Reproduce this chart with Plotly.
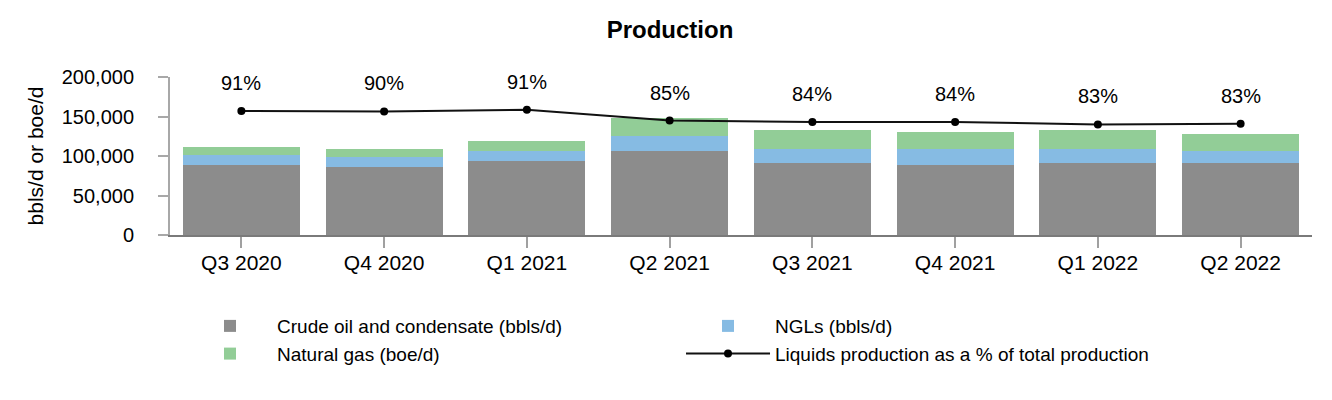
import plotly.graph_objects as go

quarters = ["Q3 2020", "Q4 2020", "Q1 2021", "Q2 2021", "Q3 2021", "Q4 2021", "Q1 2022", "Q2 2022"]
crude = [88600, 86000, 93800, 106700, 91200, 88600, 91200, 91200]
ngls = [12500, 12600, 12900, 18000, 18100, 20700, 18100, 15500]
gas = [10400, 10700, 12900, 23300, 23200, 20600, 23200, 20600]
liquids_pct = [90.6, 90.4, 91.3, 85.2, 84.4, 84.4, 83.0, 83.4]

FONT = "Liberation Sans, Arial, sans-serif"

fig = go.Figure()
fig.add_trace(go.Bar(name="Crude oil and condensate (bbls/d)", x=quarters, y=crude,
                     marker=dict(color="#8c8c8c", line=dict(width=0))))
fig.add_trace(go.Bar(name="NGLs (bbls/d)", x=quarters, y=ngls,
                     marker=dict(color="#86bbe3", line=dict(width=0))))
fig.add_trace(go.Bar(name="Natural gas (boe/d)", x=quarters, y=gas,
                     marker=dict(color="#92cd97", line=dict(width=0))))
fig.add_trace(go.Scatter(name="Liquids production as a % of total production", x=quarters, y=liquids_pct,
                         yaxis="y2", mode="lines+markers",
                         line=dict(color="#111111", width=2),
                         marker=dict(color="#000000", size=8)))

for q, v in zip(quarters, liquids_pct):
    fig.add_annotation(x=q, y=v, yref="y2", text=f"{round(v)}%", showarrow=False,
                       yshift=28, font=dict(size=20, color="#000000", family=FONT))

fig.update_layout(
    width=1324, height=392,
    margin=dict(l=162, r=20, t=69, b=165, autoexpand=False),
    paper_bgcolor="white", plot_bgcolor="white",
    font=dict(family=FONT, color="#000000"),
    title=dict(text="<b>Production</b>", x=0.5, xanchor="center", y=0.944, yanchor="middle",
               font=dict(size=24, family=FONT, color="#000000")),
    barmode="stack", bargap=0.18,
    showlegend=True,
    legend=dict(orientation="h", x=0.0114, xanchor="left", y=-0.456, yanchor="top",
                entrywidth=399, entrywidthmode="pixels", itemwidth=84,
                font=dict(size=19, family=FONT, color="#000000"),
                traceorder="normal"),
    xaxis=dict(showline=True, linecolor="#7a7a7a", linewidth=2, ticks="outside", ticklen=11,
               tickcolor="#a0a0a0", tickwidth=2, tickfont=dict(size=21, family=FONT),
               ticklabelstandoff=-3, showgrid=False),
    yaxis=dict(range=[0, 200000], tickvals=[0, 50000, 100000, 150000, 200000],
               tickformat=",d", showline=True, linecolor="#a8a8a8", linewidth=2,
               ticks="outside", ticklen=10, tickcolor="#a8a8a8", tickwidth=2,
               ticklabelstandoff=20,
               showgrid=False, zeroline=False, tickfont=dict(size=20, family=FONT),
               title=dict(text="bbls/d or boe/d", font=dict(size=21, family=FONT), standoff=12)),
    yaxis2=dict(overlaying="y", side="right", range=[20, 110], visible=False, showgrid=False),
)

fig.write_html("out.html")
